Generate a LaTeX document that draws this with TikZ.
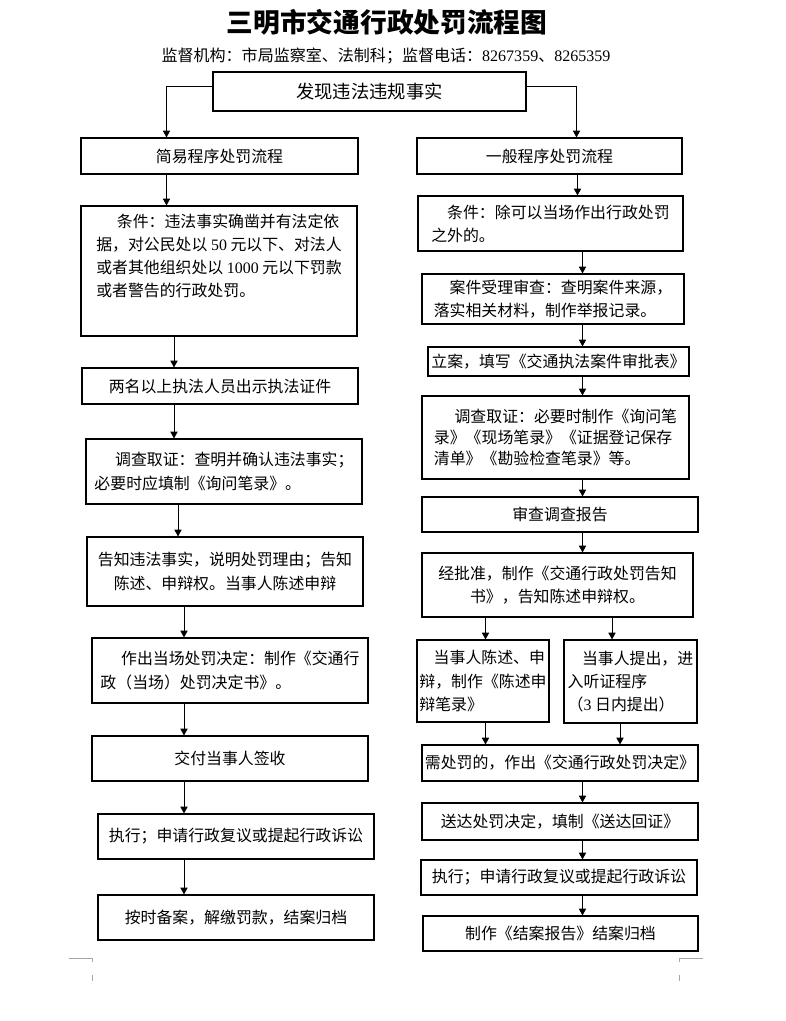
\documentclass[tikz,border=0pt]{standalone}
\usepackage{fontspec}
\setmainfont{Liberation Serif}
\newfontfamily\cjk{Noto Sans CJK SC}
\newfontfamily\lat{Liberation Serif}
\usetikzlibrary{arrows.meta}

\tikzset{
  box/.style={draw, line width=0.8pt, inner sep=2pt, align=left,
    font=\cjk\fontsize{11.3}{16.5}\selectfont},
  wh/.style 2 args={minimum width=#1*0.025cm, minimum height=#2*0.025cm},
  arr/.style={line width=0.7pt, -{Triangle[length=1.7mm,width=1.8mm]}},
  cornermark/.style={gray!70, line width=0.5pt},
}

\begin{document}
\begin{tikzpicture}[x=0.025cm, y=-0.025cm]
    \useasboundingbox (0,0) rectangle (786,1021);

    % 标题
    \node (title) at (387,22) {\cjk\bfseries\fontsize{19}{23}\selectfont 三明市交通行政处罚流程图};
    \node (sub) at (386,56) {\cjk\fontsize{11.4}{13}\selectfont 监督机构：市局监察室、法制科；监督电话：{\lat 8267359}、{\lat 8265359}};

    % 起点
    \node[box, wh={313}{39}, font=\cjk\fontsize{13}{16}\selectfont] (top) at (369.5,91.5) {发现违法违规事实};

    % 左列：简易程序
    \node[box, wh={277}{36}] (L1) at (219.5,156) {简易程序处罚流程};
    \node[box, wh={276}{130}] (L2) at (219,271) {\hspace*{1.3em}条件：违法事实确凿并有法定依\\据，对公民处以 {\lat 50} 元以下、对法人\\或者其他组织处以 {\lat 1000} 元以下罚款\\或者警告的行政处罚。\\[6pt]};
    \node[box, wh={276}{36}] (L3) at (220,386) {两名以上执法人员出示执法证件};
    \node[box, wh={276}{65}] (L4) at (224,471.5) {\hspace*{1.3em}调查取证：查明并确认违法事实；\\必要时应填制《询问笔录》。};
    \node[box, wh={276}{69}, align=center] (L5) at (225,571.5) {告知违法事实，说明处罚理由；告知\\陈述、申辩权。当事人陈述申辩};
    \node[box, wh={276}{65}] (L6) at (230,670.5) {\hspace*{1.3em}作出当场处罚决定：制作《交通行\\政（当场）处罚决定书》。};
    \node[box, wh={276}{45}] (L7) at (230,758.5) {交付当事人签收};
    \node[box, wh={276}{45}] (L8) at (236,836.5) {执行；申请行政复议或提起行政诉讼};
    \node[box, wh={276}{45}] (L9) at (236,917.5) {按时备案，解缴罚款，结案归档};

    % 右列：一般程序
    \node[box, wh={265}{36}] (R1) at (549.5,156) {一般程序处罚流程};
    \node[box, wh={265}{55}] (R2) at (550.5,223.5) {\hspace*{1em}条件：除可以当场作出行政处罚\\之外的。};
    \node[box, wh={262}{50}] (R3) at (553,299) {\hspace*{1em}案件受理审查：查明案件来源，\\落实相关材料，制作举报记录。};
    \node[box, wh={261}{29}] (R4) at (558.5,361.5) {立案，填写《交通执法案件审批表》};
    \node[box, wh={267}{83}, font=\cjk\fontsize{11.3}{15}\selectfont] (R5) at (555.5,437.5) {\hspace*{1.3em}调查取证：必要时制作《询问笔\\录》《现场笔录》《证据登记保存\\清单》《勘验检查笔录》等。};
    \node[box, wh={276}{35}] (R6) at (560,514.5) {审查调查报告};
    \node[box, wh={271}{64}, align=center] (R7) at (557.5,585) {经批准，制作《交通行政处罚告知\\书》，告知陈述申辩权。};
    \node[box, wh={132}{82}, inner xsep=1pt] (R8a) at (483,681) {\hspace*{0.9em}当事人陈述、申\\辩，制作《陈述申\\辩笔录》};
    \node[box, wh={133}{83}, inner xsep=1pt] (R8b) at (630.5,681.5) {\hspace*{0.9em}当事人提出，进\\入听证程序\\（{\lat 3} 日内提出）};
    \node[box, wh={276}{36}] (R9) at (560,763) {需处罚的，作出《交通行政处罚决定》};
    \node[box, wh={276}{37}] (R10) at (560,821.5) {送达处罚决定，填制《送达回证》};
    \node[box, wh={276}{35}] (R11) at (559,877.5) {执行；申请行政复议或提起行政诉讼};
    \node[box, wh={275}{35}] (R12) at (560.5,933.5) {制作《结案报告》结案归档};

    % 箭头所在的竖线位置
    \coordinate (kl) at (166.5,86);
    \coordinate (kr) at (576.5,86);
    \coordinate (xa) at (166.5,0);
    \coordinate (xb) at (174,0);
    \coordinate (xc) at (178,0);
    \coordinate (xd) at (184,0);
    \coordinate (xe) at (577.5,0);
    \coordinate (xf) at (582.5,0);
    \coordinate (xg) at (485.5,0);
    \coordinate (xh) at (612,0);
    \coordinate (xi) at (620,0);

    % 分支
    \draw[arr] (top.west |- kl) -| (L1.north -| kl);
    \draw[arr] (top.east |- kr) -| (R1.north -| kr);

    % 左列箭头
    \draw[arr] (L1.south -| xa) -- (L2.north -| xa);
    \draw[arr] (L2.south -| xb) -- (L3.north -| xb);
    \draw[arr] (L3.south -| xb) -- (L4.north -| xb);
    \draw[arr] (L4.south -| xc) -- (L5.north -| xc);
    \draw[arr] (L5.south -| xd) -- (L6.north -| xd);
    \draw[arr] (L6.south -| xd) -- (L7.north -| xd);
    \draw[arr] (L7.south -| xd) -- (L8.north -| xd);
    \draw[arr] (L8.south -| xd) -- (L9.north -| xd);

    % 右列箭头
    \draw[arr] (R1.south -| xe) -- (R2.north -| xe);
    \draw[arr] (R2.south -| xf) -- (R3.north -| xf);
    \draw[arr] (R3.south -| xf) -- (R4.north -| xf);
    \draw[arr] (R4.south -| xf) -- (R5.north -| xf);
    \draw[arr] (R5.south -| xf) -- (R6.north -| xf);
    \draw[arr] (R6.south -| xf) -- (R7.north -| xf);
    \draw[arr] (R7.south -| xg) -- (R8a.north -| xg);
    \draw[arr] (R7.south -| xh) -- (R8b.north -| xh);
    \draw[arr] (R8a.south -| xg) -- (R9.north -| xg);
    \draw[arr] (R8b.south -| xi) -- (R9.north -| xi);
    \draw[arr] (R9.south -| xf) -- (R10.north -| xf);
    \draw[arr] (R10.south -| xf) -- (R11.north -| xf);
    \draw[arr] (R11.south -| xf) -- (R12.north -| xf);

    % 页角标记
    \draw[cornermark] (69,958) -- (92,958) -- (92,962);
    \draw[cornermark] (92,975) -- (92,981);
    \draw[cornermark] (703,958) -- (679,958) -- (679,962);
    \draw[cornermark] (679,975) -- (679,981);
\end{tikzpicture}
\end{document}
